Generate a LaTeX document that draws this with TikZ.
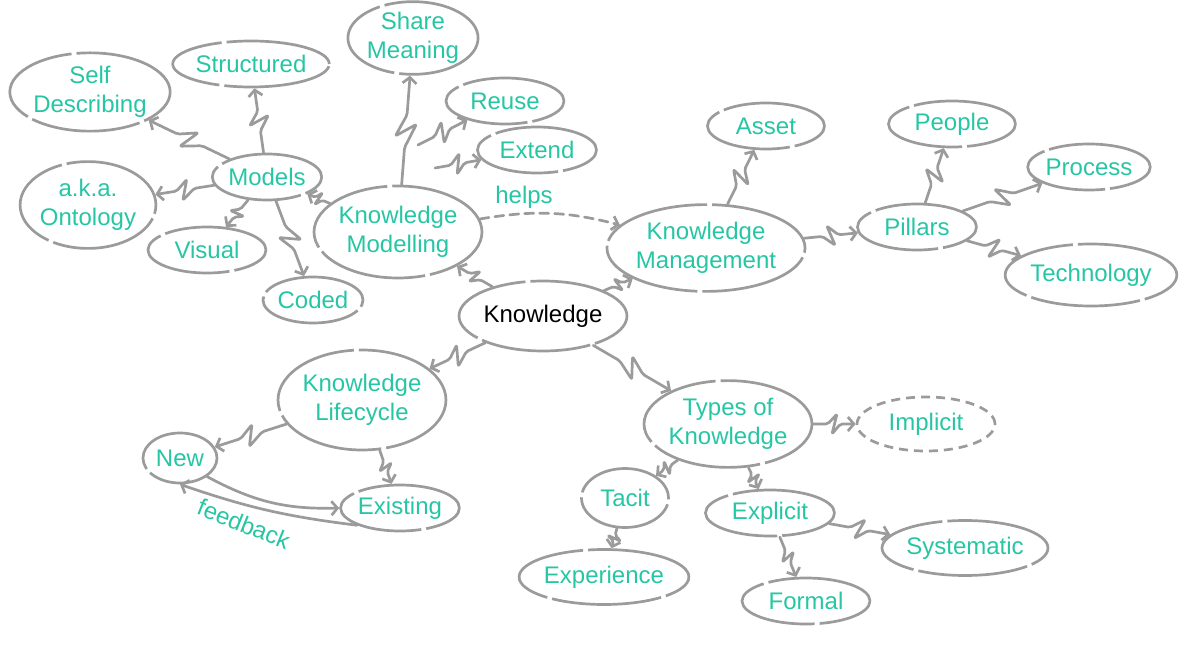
\documentclass[tikz,border=0pt]{standalone}
\usepackage{fontspec}
\setmainfont{Liberation Sans}
\usepackage{xcolor}
\usepackage{tikz}
\usetikzlibrary{calc, shapes.geometric, arrows.meta, decorations, decorations.pathreplacing, positioning}
\definecolor{mintext}{HTML}{26C6A4}
\definecolor{linegray}{HTML}{9B9B9B}
\newcommand{\mapfont}{\fontsize{24}{29}\selectfont}
\tikzset{
    >={Straight Barb[length=6pt, width=14pt]},
    ellipsenode/.style = {draw=linegray, ellipse, line width=2.7pt, dash pattern=on 110pt off 5pt,
      inner xsep=0pt, inner ysep=5pt, node distance=0em, minimum height=46pt, text=mintext, font=\mapfont},
    textnode/.style  = {draw=none, fill=none, rectangle, inner sep=0em, text=mintext, font=\mapfont},
    wire/.style = {draw=linegray, line width=2.7pt, line cap=round, line join=round},
    connect/.style = {decorate, decoration={show path construction,
      lineto code={\draw[wire, ->, rounded corners=2pt] (\tikzinputsegmentfirst)
        -- ($(\tikzinputsegmentfirst)!0.34!(\tikzinputsegmentlast)$)
        -- ($(\tikzinputsegmentfirst)!0.56!(\tikzinputsegmentlast)!#1!90:(\tikzinputsegmentlast)$)
        -- ($(\tikzinputsegmentfirst)!0.44!(\tikzinputsegmentlast)!#1!-90:(\tikzinputsegmentlast)$)
        -- ($(\tikzinputsegmentfirst)!0.64!(\tikzinputsegmentlast)$)
        -- (\tikzinputsegmentlast);}}},
    connect/.default = 10pt,
    every text node part/.style={align=center}
}
\begin{document}
\begin{tikzpicture}[node distance=0em]
    \useasboundingbox (-543pt,-329pt) rectangle (645pt,316pt);

    \node [name=KNOW, ellipsenode, text=black, minimum height=70pt] {Knowledge};
    \node [name=KMOD, ellipsenode, left of = KNOW, xshift=-145pt, yshift=84pt, minimum height=92pt] {Knowledge\\Modelling};
    \node [name=KMGT, ellipsenode, right of = KNOW, xshift=163pt, yshift=68pt] {Knowledge\\Management};
    \node [name=KLIFE, ellipsenode, left of = KNOW, xshift=-181pt, yshift=-84pt, minimum height=100pt] {Knowledge\\Lifecycle};
    \node [name=TYPES, ellipsenode, right of = KNOW, xshift=185pt, yshift=-108pt] {Types of\\Knowledge};

    % models side
    \node [name=MODELS, ellipsenode, left of = KMOD, xshift=-131pt, yshift=55pt] {Models};
    \node [name=SELF, ellipsenode, left of = MODELS, xshift=-177pt, yshift=85pt, inner ysep=2pt] {Self\\Describing};
    \node [name=STRUCT, ellipsenode, above of = MODELS, xshift=-16pt, yshift=113pt] {Structured};
    \node [name=AKA, ellipsenode, left of = MODELS, xshift=-179pt, yshift=-28pt] {a.k.a.\\Ontology};
    \node [name=VISUAL, ellipsenode, below of = MODELS, xshift=-60pt, yshift=-73pt, minimum width=118pt] {Visual};
    \node [name=CODED, ellipsenode, below of = MODELS, xshift=46pt, yshift=-123pt] {Coded};
    \node [name=SHARE, ellipsenode, above of = KMOD, xshift=15pt, yshift=194pt, inner ysep=0pt] {Share\\Meaning};
    \node [name=REUSE, ellipsenode, above of = KMOD, xshift=107pt, yshift=131pt, minimum width=118pt] {Reuse};
    \node [name=EXTEND, ellipsenode, above of = KMOD, xshift=139pt, yshift=82pt, minimum width=119pt] {Extend};
    \coordinate (REUSEFROM) at ($(KMOD)+(20pt,87pt)$);
    \coordinate (EXTENDFROM) at ($(KMOD)+(37pt,64pt)$);

    \draw (KMOD) edge[connect=7pt] (MODELS);
    \draw (MODELS) edge[connect] (SELF);
    \draw (MODELS) edge[connect=-10pt] (STRUCT);
    \draw (MODELS) edge[connect] (AKA);
    \draw (MODELS) edge[connect=-7pt] (VISUAL);
    \draw (MODELS) edge[connect] (CODED);
    \draw (KMOD) edge[connect=-10pt] (SHARE);
    \draw (REUSEFROM) edge[connect] (REUSE);
    \draw (EXTENDFROM) edge[connect] (EXTEND);

    % management side
    \node [name=ASSET, ellipsenode, above of = KMGT, xshift=60pt, yshift=122pt, minimum width=117pt] {Asset};
    \node [name=PILLARS, ellipsenode, right of = KMGT, xshift=211pt, yshift=21pt, minimum width=119pt] {Pillars};
    \node [name=PEOPLE, ellipsenode, above of = PILLARS, xshift=35pt, yshift=103pt, minimum width=127pt] {People};
    \node [name=PROCESS, ellipsenode, right of = PILLARS, xshift=172pt, yshift=60pt] {Process};
    \node [name=TECH, ellipsenode, right of = PILLARS, xshift=174pt, yshift=-48pt, minimum height=62pt] {Technology};

    \draw (KMOD) edge[wire, ->, dash pattern=on 9pt off 6pt, bend left=12] node[textnode, pos=0.3, above=4pt] {helps} (KMGT);
    \draw (KNOW) edge[connect=7pt] (KMOD);
    \draw (KNOW) edge[connect=-7pt] (KMGT);
    \draw (KMGT) edge[connect] (ASSET);
    \draw (KMGT) edge[connect=-10pt] (PILLARS);
    \draw (PILLARS) edge[connect] (PEOPLE);
    \draw (PILLARS) edge[connect=-10pt] (PROCESS);
    \draw (PILLARS) edge[connect] (TECH);

    % lifecycle
    \node [name=NEW, ellipsenode, left of = KLIFE, xshift=-182pt, yshift=-58pt, minimum width=74pt, minimum height=50pt] {New};
    \node [name=EXIST, ellipsenode, below of = KLIFE, xshift=38pt, yshift=-108pt] {Existing};
    \draw (KNOW) edge[connect] (KLIFE);
    \draw (KLIFE) edge[connect] (NEW);
    \draw (KLIFE) edge[connect=-7pt] (EXIST);
    \draw (NEW.south east) edge[wire, ->, bend right=15] (EXIST.west);
    \draw (EXIST.south west) edge[wire, ->, bend left=6] node[textnode, pos=0.62, below=9pt, rotate=-22] {feedback} (NEW.south);

    % types
    \node [name=IMPL, ellipsenode, right of = TYPES, xshift=198pt, minimum width=138pt, minimum height=54pt, dash pattern=on 9pt off 6pt] {Implicit};
    \node [name=TACIT, ellipsenode, below of = TYPES, xshift=-103pt, yshift=-74pt, minimum width=87pt, minimum height=59pt] {Tacit};
    \node [name=EXPL, ellipsenode, below of = TYPES, xshift=42pt, yshift=-89pt, minimum width=129pt] {Explicit};
    \node [name=EXPER, ellipsenode, below of = TACIT, xshift=-21pt, yshift=-79pt, minimum height=55pt] {Experience};
    \node [name=FORMAL, ellipsenode, below of = EXPL, xshift=36pt, yshift=-88pt, minimum width=128pt] {Formal};
    \node [name=SYST, ellipsenode, right of = EXPL, xshift=195pt, yshift=-35pt, minimum height=55pt] {Systematic};

    \draw (KNOW) edge[connect=-10pt] (TYPES);
    \draw (TYPES) edge[connect] (IMPL);
    \draw (TYPES) edge[connect=7pt] (TACIT);
    \draw (TYPES) edge[connect=-7pt] (EXPL);
    \draw (TACIT) edge[connect=7pt] (EXPER);
    \draw (EXPL) edge[connect=-7pt] (FORMAL);
    \draw (EXPL) edge[connect] (SYST);
\end{tikzpicture}
\end{document}
